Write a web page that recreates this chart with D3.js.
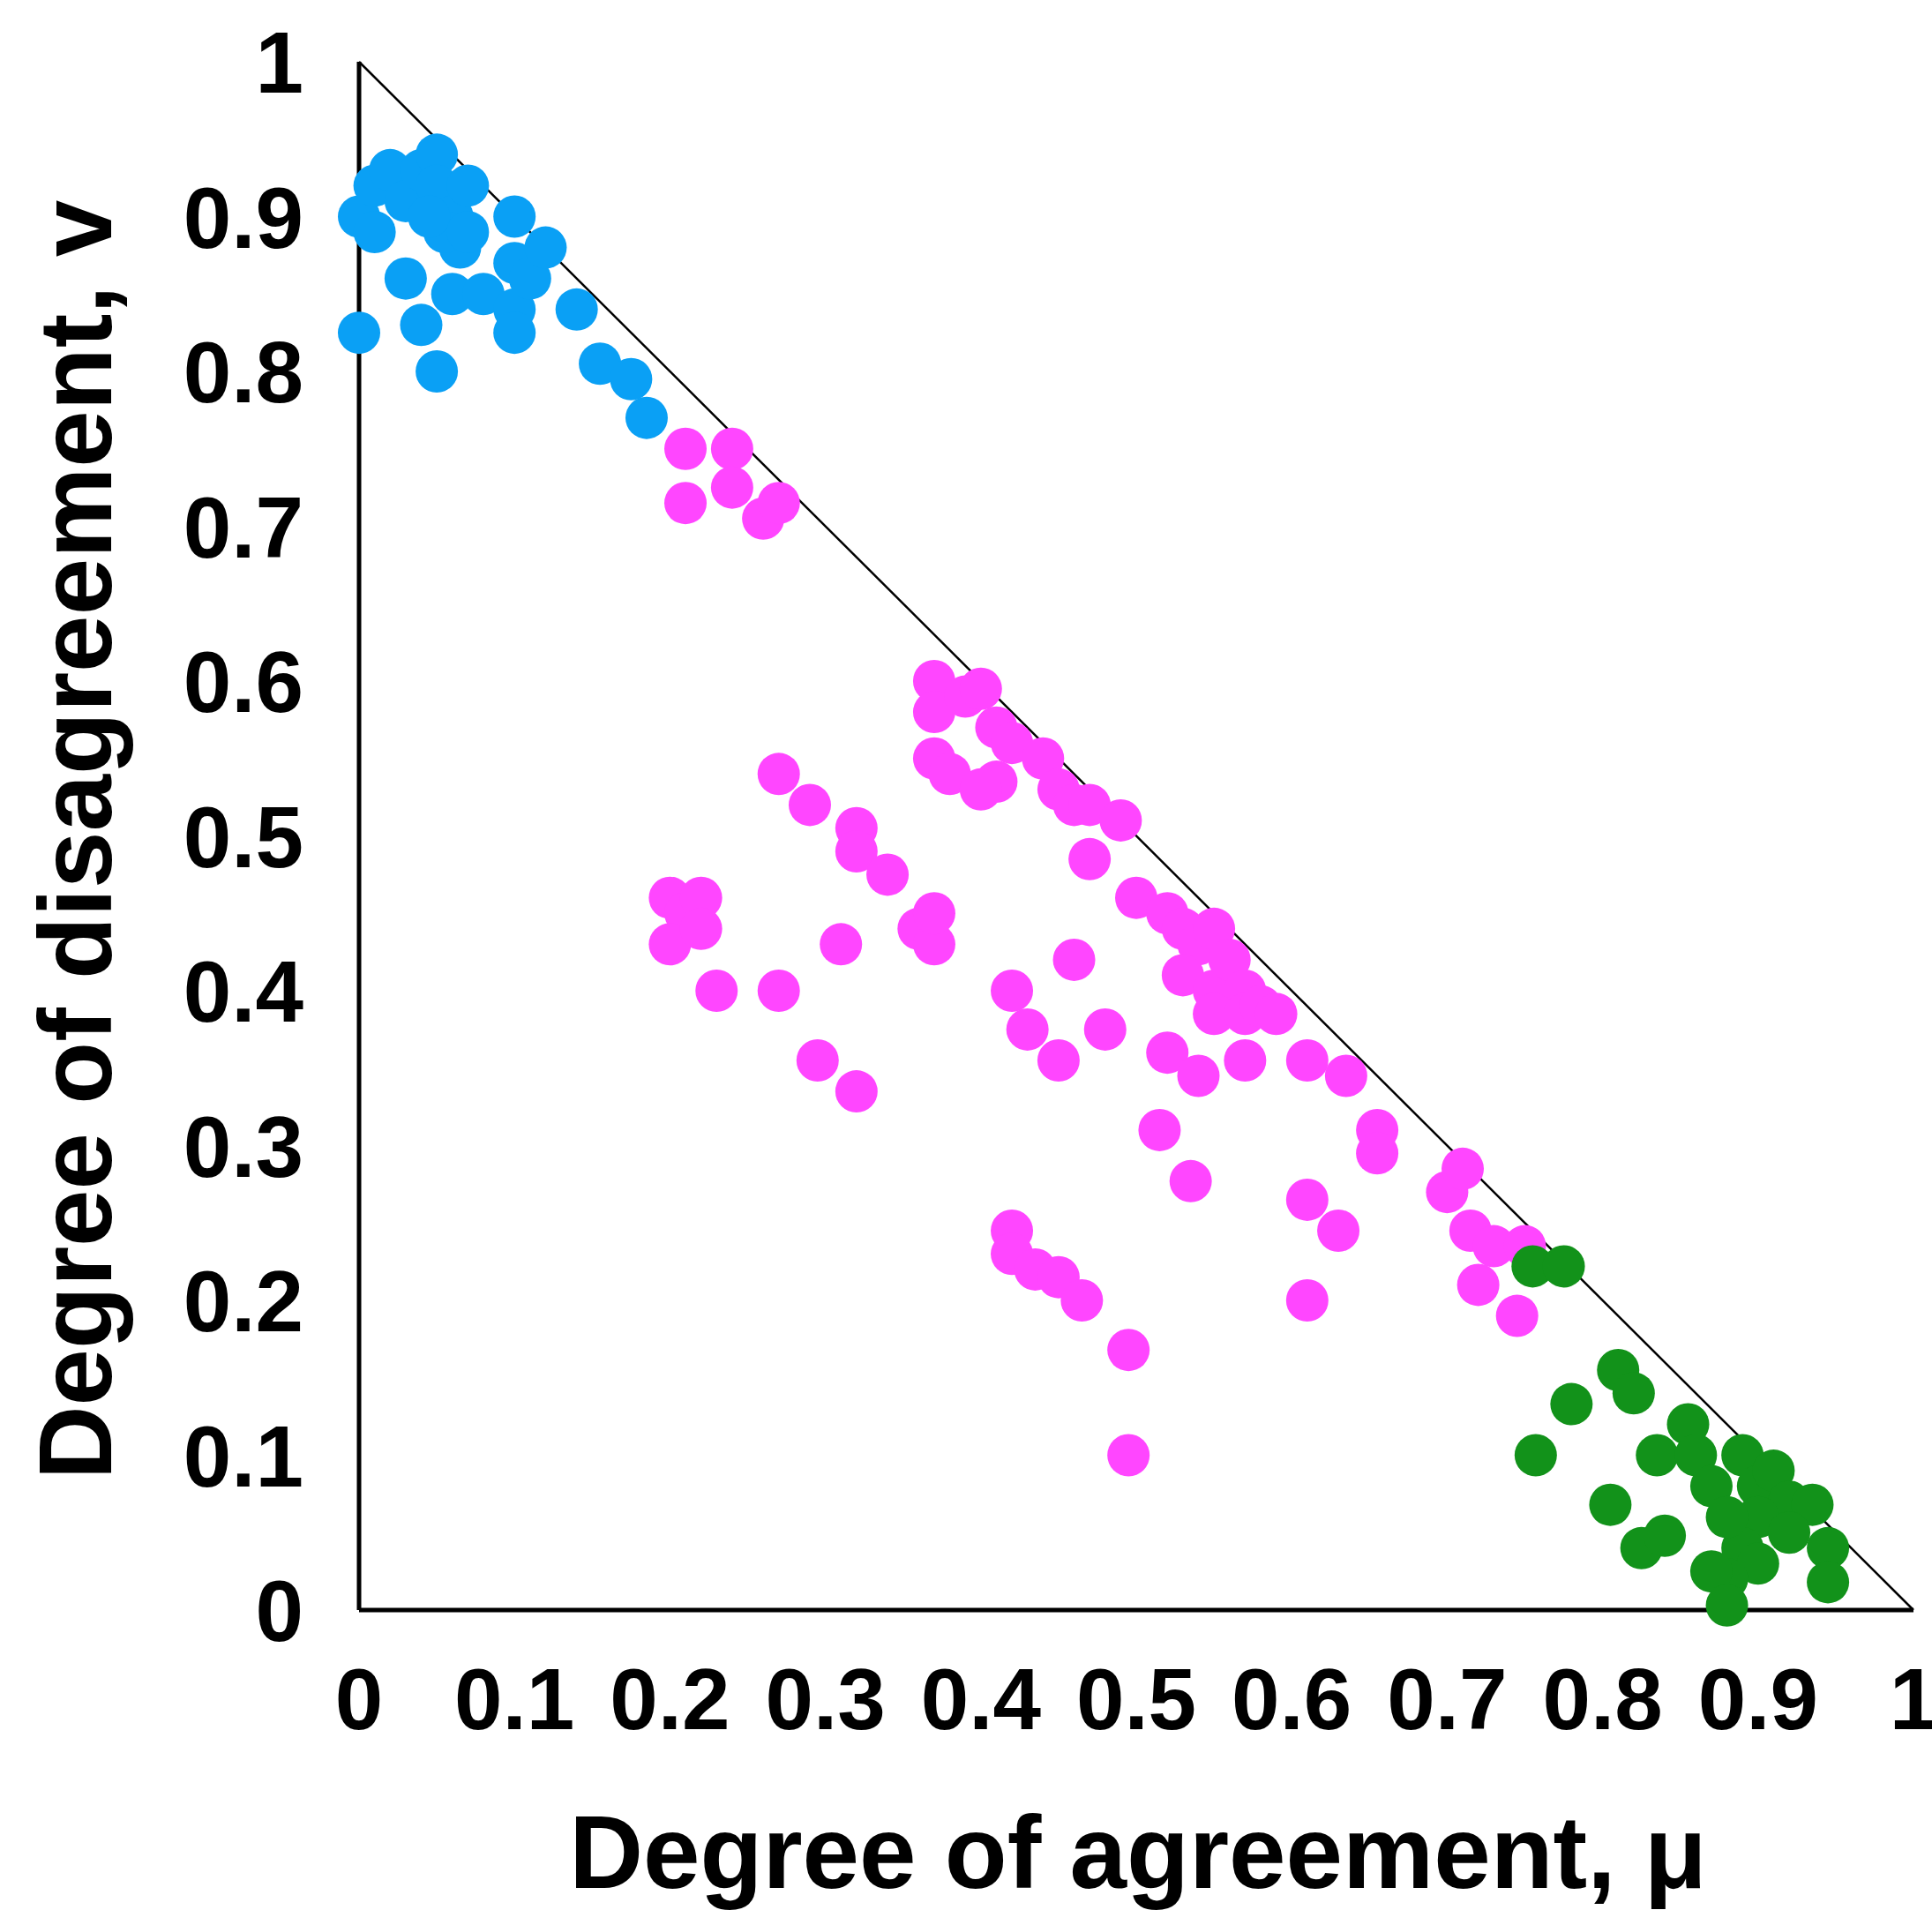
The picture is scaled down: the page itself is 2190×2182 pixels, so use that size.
<!DOCTYPE html>
<html><head><meta charset="utf-8">
<script src="https://cdn.jsdelivr.net/npm/d3@7"></script>
<style>body{margin:0;background:#fff}text{font-family:"Liberation Sans",Arial,sans-serif;font-weight:bold}</style>
</head><body><svg id="chart" width="2190" height="2182"></svg>
<script>
// data: [mu, nu]
var blueData = [[0,0.9],[0.01,0.92],[0.02,0.93],[0.01,0.89],[0.03,0.91],[0.04,0.93],[0.05,0.94],[0.05,0.92],[0.06,0.9],[0.07,0.92],[0.065,0.88],[0.055,0.89],[0.045,0.9],[0.07,0.89],[0.1,0.9],[0.03,0.86],[0,0.825],[0.04,0.83],[0.05,0.8],[0.06,0.85],[0.08,0.85],[0.1,0.87],[0.1,0.84],[0.1,0.825],[0.11,0.86],[0.12,0.88],[0.14,0.84],[0.155,0.805],[0.175,0.795],[0.185,0.77]];
var pinkData = [[0.21,0.75],[0.21,0.715],[0.24,0.75],[0.24,0.725],[0.26,0.705],[0.27,0.715],
 [0.37,0.6],[0.37,0.58],[0.39,0.59],[0.4,0.595],[0.41,0.57],[0.42,0.56],[0.41,0.535],[0.37,0.55],[0.38,0.54],[0.4,0.53],[0.44,0.55],[0.45,0.53],[0.46,0.52],[0.47,0.52],[0.47,0.485],[0.49,0.51],
 [0.27,0.54],[0.29,0.52],[0.32,0.505],[0.32,0.49],[0.34,0.475],[0.36,0.44],[0.37,0.43],[0.37,0.45],[0.31,0.43],
 [0.2,0.46],[0.21,0.45],[0.22,0.46],[0.2,0.43],[0.22,0.44],[0.23,0.4],[0.27,0.4],[0.295,0.355],[0.32,0.335],
 [0.5,0.46],[0.52,0.45],[0.53,0.44],[0.54,0.43],[0.55,0.44],[0.53,0.41],[0.55,0.4],[0.56,0.42],[0.57,0.4],[0.55,0.385],[0.57,0.385],[0.58,0.39],[0.59,0.385],[0.57,0.355],[0.61,0.355],[0.635,0.345],
 [0.42,0.4],[0.43,0.375],[0.45,0.355],[0.46,0.42],[0.48,0.375],[0.52,0.36],[0.54,0.345],[0.515,0.31],[0.535,0.277],
 [0.61,0.265],[0.63,0.245],[0.61,0.2],[0.655,0.31],[0.655,0.295],[0.7,0.27],[0.71,0.285],[0.715,0.245],[0.73,0.235],[0.72,0.21],[0.745,0.19],[0.75,0.235],
 [0.42,0.245],[0.42,0.23],[0.435,0.22],[0.45,0.215],[0.465,0.2],[0.495,0.168],[0.495,0.1]];
var greenData = [[0.755,0.222],[0.775,0.222],[0.81,0.155],[0.82,0.14],[0.78,0.133],[0.757,0.1],[0.835,0.1],[0.855,0.12],[0.86,0.1],[0.87,0.08],[0.89,0.1],[0.9,0.08],[0.91,0.09],[0.92,0.07],[0.935,0.068],[0.9,0.06],[0.92,0.05],[0.89,0.04],[0.9,0.03],[0.88,0.02],[0.87,0.025],[0.88,0.003],[0.945,0.04],[0.945,0.018],[0.805,0.068],[0.825,0.04],[0.84,0.048],[0.88,0.06]];
var ticks = [0,0.1,0.2,0.3,0.4,0.5,0.6,0.7,0.8,0.9,1];
var series = [{data: blueData, color: "#0aa0f5"}, {data: pinkData, color: "#ff46ff"}, {data: greenData, color: "#12921a"}];

var svg = d3.select("#chart");
var x = d3.scaleLinear().domain([0,1]).range([407,2169]);
var y = d3.scaleLinear().domain([0,1]).range([1825,70]);

// axes lines
svg.append("line").attr("x1",x(0)).attr("x2",x(1)).attr("y1",y(0)).attr("y2",y(0)).attr("stroke","#000").attr("stroke-width",5);
svg.append("line").attr("x1",x(0)).attr("x2",x(0)).attr("y1",y(0)).attr("y2",y(1)).attr("stroke","#000").attr("stroke-width",5);
svg.append("line").attr("x1",x(0)).attr("x2",x(1)).attr("y1",y(1)).attr("y2",y(0)).attr("stroke","#000").attr("stroke-width",2.5);

series.forEach(function(s) {
  svg.append("g").selectAll("circle").data(s.data).enter().append("circle")
    .attr("cx", function(d){ return x(d[0]); })
    .attr("cy", function(d){ return y(d[1]); })
    .attr("r", 24).attr("fill", s.color);
});

svg.append("g").selectAll("text").data(ticks).enter().append("text")
  .attr("x", 344).attr("y", function(d){ return y(d)+35; })
  .attr("text-anchor","end").attr("font-size",98).text(function(d){ return d; });
svg.append("g").selectAll("text").data(ticks).enter().append("text")
  .attr("x", function(d){ return x(d); }).attr("y", 1960)
  .attr("text-anchor","middle").attr("font-size",98).text(function(d){ return d; });

svg.append("text").attr("x",1290).attr("y",2140).attr("text-anchor","middle").attr("font-size",116).text("Degree of agreement, μ");
svg.append("text").attr("transform","translate(126,952) rotate(-90)").attr("text-anchor","middle").attr("font-size",116).text("Degree of disagreement, v");
</script></body></html>
